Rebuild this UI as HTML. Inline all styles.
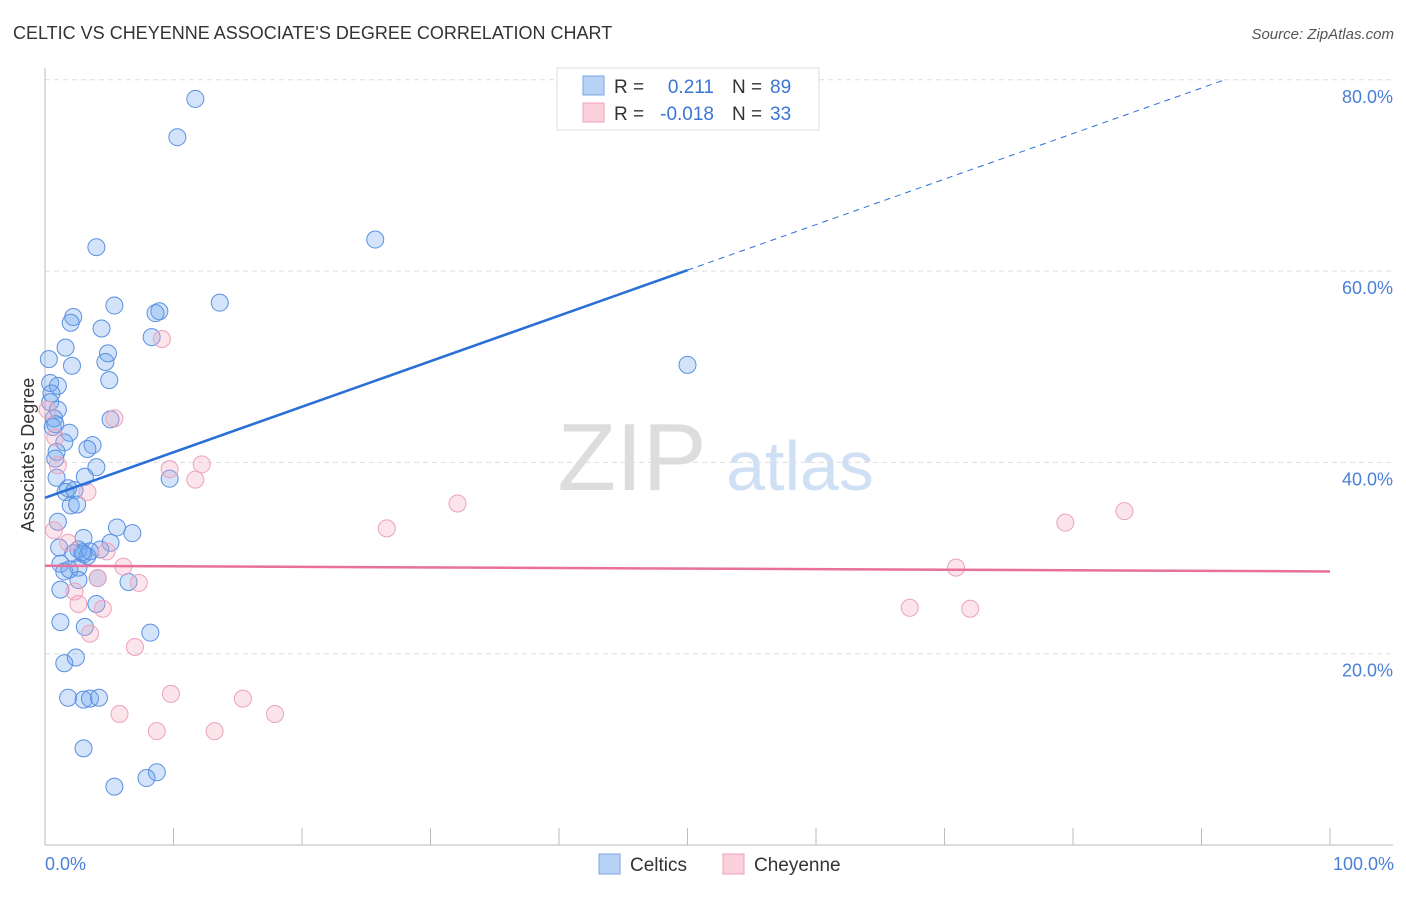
<!DOCTYPE html>
<html><head><meta charset="utf-8"><style>
body{margin:0;background:#fff;font-family:"Liberation Sans",sans-serif}
svg text{font-family:"Liberation Sans",sans-serif}
</style></head><body>
<svg id="chart" width="1406" height="892" xmlns="http://www.w3.org/2000/svg">
<text x="13" y="39" font-size="18" fill="#333">CELTIC VS CHEYENNE ASSOCIATE'S DEGREE CORRELATION CHART</text>
<text x="1394" y="39" font-size="15" fill="#555" font-style="italic" text-anchor="end">Source: ZipAtlas.com</text>
<g>
<text x="632" y="490" font-size="96" fill="#ddd" font-family="Liberation Serif" text-anchor="middle">ZIP</text>
<text x="800" y="490" font-size="70" fill="#cfe0f5" text-anchor="middle">atlas</text>
</g>
<g id="grid"></g>
<g id="axes"></g>
<g id="points"></g>
<g id="lines"></g>
<text transform="translate(34,455) rotate(-90)" font-size="18" fill="#333" text-anchor="middle">Associate's Degree</text>
<text x="45" y="870" font-size="18" fill="#4a7fd8">0.0%</text>
<text x="1394" y="870" font-size="18" fill="#4a7fd8" text-anchor="end">100.0%</text>
<g>
<rect x="557" y="68" width="262" height="62" fill="#fff" stroke="#ddd"/>
<rect x="583" y="76" width="21" height="19" fill="#b8d2f5" stroke="#7aa6e6"/>
<rect x="583" y="103" width="21" height="19" fill="#fbd0dc" stroke="#f0a0b8"/>
<text x="614" y="93" font-size="19" fill="#333">R =</text>
<text x="714" y="93" font-size="19" fill="#3a75d6" text-anchor="end">0.211</text>
<text x="732" y="93" font-size="19" fill="#333">N =</text>
<text x="770" y="93" font-size="19" fill="#3a75d6">89</text>
<text x="614" y="120" font-size="19" fill="#333">R =</text>
<text x="714" y="120" font-size="19" fill="#3a75d6" text-anchor="end">-0.018</text>
<text x="732" y="120" font-size="19" fill="#333">N =</text>
<text x="770" y="120" font-size="19" fill="#3a75d6">33</text>
</g>
<g>
<rect x="599" y="854" width="21" height="20" fill="#b8d2f5" stroke="#7aa6e6"/>
<text x="630" y="871" font-size="19" fill="#333">Celtics</text>
<rect x="723" y="854" width="21" height="20" fill="#fbd0dc" stroke="#f0a0b8"/>
<text x="754" y="871" font-size="19" fill="#333">Cheyenne</text>
</g>
</svg>
<script>
const yTicks=[20,40,60,80];
const yTickLabels=["20.0%","40.0%","60.0%","80.0%"];
const xTicks=[0,10,20,30,40,50,60,70,80,90,100];
const celticsX=[11.7,10.3,4.0,25.7,50.0,13.6,5.4,2.2,2.0,4.4,8.9,8.6,8.3,1.6,0.3,4.9,4.7,2.1,5.0,0.4,1.0,0.5,0.4,1.0,0.7,0.6,5.1,1.9,1.5,3.7,3.3,0.9,0.8,4.0,9.7,3.1,0.9,1.8,1.6,2.3,2.0,2.5,1.0,5.6,6.8,3.0,5.1,1.1,2.6,4.3,2.2,3.0,3.3,1.2,1.5,2.6,2.6,4.1,6.5,1.2,4.0,1.2,3.1,8.2,1.5,2.4,1.8,3.0,3.5,4.2,3.0,8.7,7.9,5.4,0.8,1.9,3.5,2.9];
const celticsY=[78.0,74.0,62.5,63.3,50.2,56.7,56.4,55.2,54.6,54.0,55.8,55.6,53.1,52.0,50.8,51.4,50.5,50.1,48.6,48.3,48.0,47.2,46.3,45.5,44.6,43.7,44.5,43.1,42.1,41.8,41.4,41.1,40.4,39.5,38.3,38.5,38.4,37.3,36.9,37.1,35.5,35.6,33.8,33.2,32.6,32.1,31.6,31.1,30.9,30.9,30.5,30.4,30.2,29.4,28.6,29.0,27.7,27.9,27.5,26.7,25.2,23.3,22.8,22.2,19.0,19.6,15.4,15.2,15.3,15.4,10.1,7.6,7.0,6.1,44.0,28.8,30.7,30.6];
const cheyenneX=[9.1,5.4,0.2,12.2,9.7,11.7,1.0,3.3,32.1,26.6,84.0,79.4,0.7,1.8,4.8,6.1,7.3,4.1,70.9,2.3,2.6,4.5,67.3,72.0,3.5,7.0,9.8,15.4,5.8,17.9,8.7,13.2,0.8];
const cheyenneY=[52.9,44.6,45.5,39.8,39.3,38.2,39.7,36.9,35.7,33.1,34.9,33.7,32.9,31.6,30.7,29.1,27.4,27.9,29.0,26.5,25.2,24.7,24.8,24.7,22.1,20.7,15.8,15.3,13.7,13.7,11.9,11.9,42.6];
const celticsTrend=[36.3,60.1];   // values at x=0 and x=50
const cheyenneTrend=[29.2,28.6];  // values at x=0 and x=100
const NS="http://www.w3.org/2000/svg";
const X0=45,X1=1330,Y0=845,YPER=9.565;
const xs=v=>X0+v*(X1-X0)/100;
const ys=v=>Y0-v*YPER;
function mk(tag,attrs,parent){const e=document.createElementNS(NS,tag);for(const k in attrs)e.setAttribute(k,attrs[k]);document.getElementById(parent).appendChild(e);return e;}
yTicks.forEach((t,i)=>{
 const l=mk('line',{x1:45,x2:1393,y1:ys(t),y2:ys(t),stroke:'#ddd','stroke-dasharray':'5,4'},'grid');
 
 
 const tx=mk('text',{x:1393,y:ys(t)+23,'font-size':18,fill:'#4a7fd8','text-anchor':'end'},'grid');
 tx.textContent=yTickLabels[i];
 
 
});
const ya=mk('line',{x1:45,x2:45,y1:68,y2:Y0,stroke:'#bbb'},'axes');


const xa=mk('line',{x1:45,x2:1393,y1:Y0,y2:Y0,stroke:'#bbb'},'axes');


xTicks.forEach(t=>{
 const l=mk('line',{x1:xs(t),x2:xs(t),y1:828,y2:Y0,stroke:'#bbb'},'axes');
 
 
});
celticsX.forEach((x,i)=>{
 const c=mk('circle',{cx:xs(x),cy:ys(celticsY[i]),r:8.5,fill:'rgba(110,165,240,0.3)',stroke:'#5b8fe0','stroke-width':1},'points');
 
 
});
cheyenneX.forEach((x,i)=>{
 const c=mk('circle',{cx:xs(x),cy:ys(cheyenneY[i]),r:8.5,fill:'rgba(245,165,190,0.3)',stroke:'#eba3bb','stroke-width':1},'points');
 
 
});
const slope=(celticsTrend[1]-celticsTrend[0])/50;
const xEnd=(80-celticsTrend[0])/slope;
const b1=mk('line',{x1:xs(0),y1:ys(celticsTrend[0]),x2:xs(50),y2:ys(celticsTrend[1]),stroke:'#2a6fd6','stroke-width':2.5},'lines');


const b2=mk('line',{x1:xs(50),y1:ys(celticsTrend[1]),x2:xs(xEnd),y2:ys(80),stroke:'#2a6fd6','stroke-width':1,'stroke-dasharray':'6,5'},'lines');


const p1=mk('line',{x1:xs(0),y1:ys(cheyenneTrend[0]),x2:xs(100),y2:ys(cheyenneTrend[1]),stroke:'#e8709a','stroke-width':2.5},'lines');


</script>
</body></html>
